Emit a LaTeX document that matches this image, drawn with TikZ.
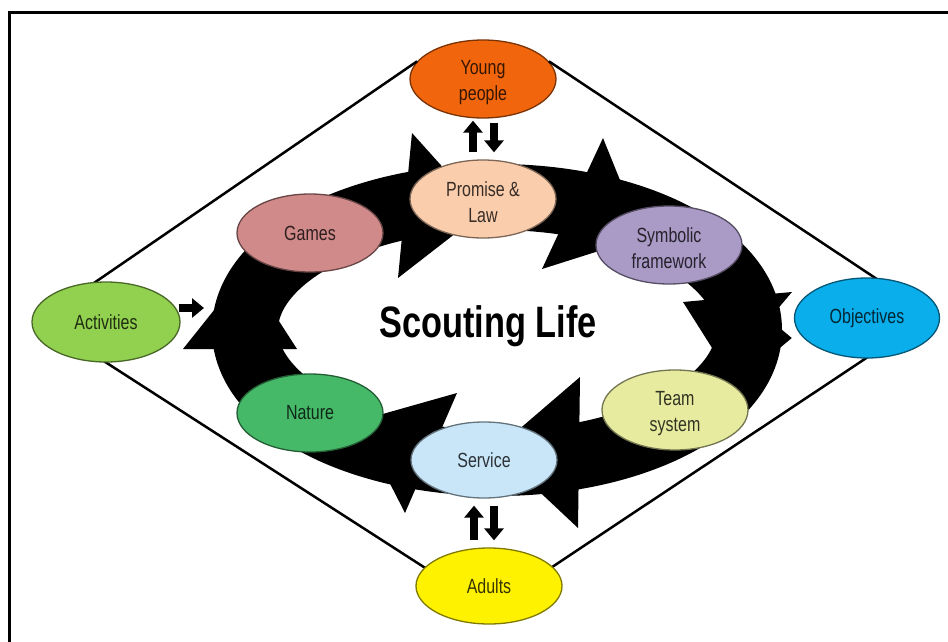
\documentclass[tikz,border=0pt]{standalone}
\usepackage{fontspec}
\setmainfont{Liberation Sans}[FakeStretch=0.78]
\usetikzlibrary{shapes.geometric,arrows.meta}
\definecolor{cYoung}{RGB}{241,102,12}
\definecolor{cProm}{RGB}{250,205,172}
\definecolor{cGames}{RGB}{208,138,138}
\definecolor{cSymb}{RGB}{170,154,198}
\definecolor{cAct}{RGB}{146,208,80}
\definecolor{cObj}{RGB}{10,174,235}
\definecolor{cNat}{RGB}{70,185,105}
\definecolor{cTeam}{RGB}{230,235,160}
\definecolor{cServ}{RGB}{200,230,248}
\definecolor{cAdul}{RGB}{255,242,0}
\newcommand\mytopstrut{\rule{0pt}{22pt}}
\begin{document}
\begin{tikzpicture}[x=1pt,y=-1pt,
  bub/.style={ellipse, fill=#1, draw=#1!50!black, text=#1!22!black, line width=1.3pt,
    minimum width=146pt, minimum height=78pt, inner sep=0pt, align=center,
    font=\fontsize{20.5}{26}\selectfont},
  sarr/.style={line width=8pt, -{Triangle[width=19pt,length=12pt]}},
  ring/.style={black, line width=66pt},
  head/.style={fill=black},
  frameline/.style={line width=3pt, black},
  diamondline/.style={line width=2.5pt, black}]
\useasboundingbox (0,0) rectangle (948,642);
% frame
\draw[frameline] (948,13) -- (9,13) -- (9,642);
% top bubble first, the diamond starts on its rim
\node[bub=cYoung] (young) at (483,79) {\mytopstrut Young\\people};
% diamond: its other corners hide behind the side bubbles
\coordinate (dleft) at (40,320);
\coordinate (dbot) at (489,609);
\coordinate (dright) at (931,315);
\draw[diamondline] (young.165) -- (dleft) -- (dbot) -- (dright) -- (young.15);
% ring
\draw[ring] (497,330) ellipse [x radius=252, y radius=133];
% arrow heads
\fill[head] (412,133) -- (483,212) -- (398,278) -- cycle;
\fill[head] (603,138) -- (643,237) -- (542,269) -- cycle;
\fill[head] (792,292) -- (726,370) -- (683,302) -- cycle;
\fill[head] (580,377) -- (495,450) -- (578,528) -- cycle;
\fill[head] (457,393) -- (358,421) -- (405,513) -- cycle;
\fill[head] (183,349) -- (246,270) -- (297,349) -- cycle;
% other nodes
\node[bub=cProm] (prom) at (483,199) {\mytopstrut Promise \&\\Law};
\node[bub=cGames] (games) at (310,233) {Games};
\node[bub=cSymb] (symb) at (669,245) {\mytopstrut Symbolic\\framework};
\node[bub=cAct, minimum width=148pt, minimum height=80pt] (act) at (106,322) {Activities};
\node[bub=cObj, minimum width=145pt, minimum height=80pt] (obj) at (867,318) {Objectives};
\node[bub=cNat] (nat) at (310,413) {Nature};
\node[bub=cTeam, minimum height=80pt] (team) at (675,410) {\mytopstrut Team\\system};
\node[bub=cServ, minimum height=76pt] (serv) at (484,460) {Service};
\node[bub=cAdul, minimum height=76pt] (adul) at (489,586) {Adults};
% title
\node (title) at (488,326) {\fontsize{44}{50}\selectfont\bfseries Scouting Life};
% small arrows
\draw[sarr, shorten <=7pt, shorten >=2pt] ([xshift=-10pt]prom.north) -- ([xshift=-10pt]young.south);
\draw[sarr, shorten <=4pt, shorten >=7pt] ([xshift=11pt]young.south) -- ([xshift=11pt]prom.north);
\draw[sarr, shorten <=7pt, shorten >=7pt] ([xshift=-10pt]serv.south |- adul.north) -- ([xshift=-10pt]serv.south);
\draw[sarr, shorten <=7pt, shorten >=7pt] ([xshift=10pt]serv.south) -- ([xshift=10pt]serv.south |- adul.north);
\coordinate (ringL) at (204,308);
\draw[sarr, shorten <=-2pt] (act.east |- ringL) -- (ringL);
\coordinate (ringR) at (773,338);
\draw[sarr, shorten >=2pt] (ringR) -- (obj.west |- ringR);
\end{tikzpicture}
\end{document}
